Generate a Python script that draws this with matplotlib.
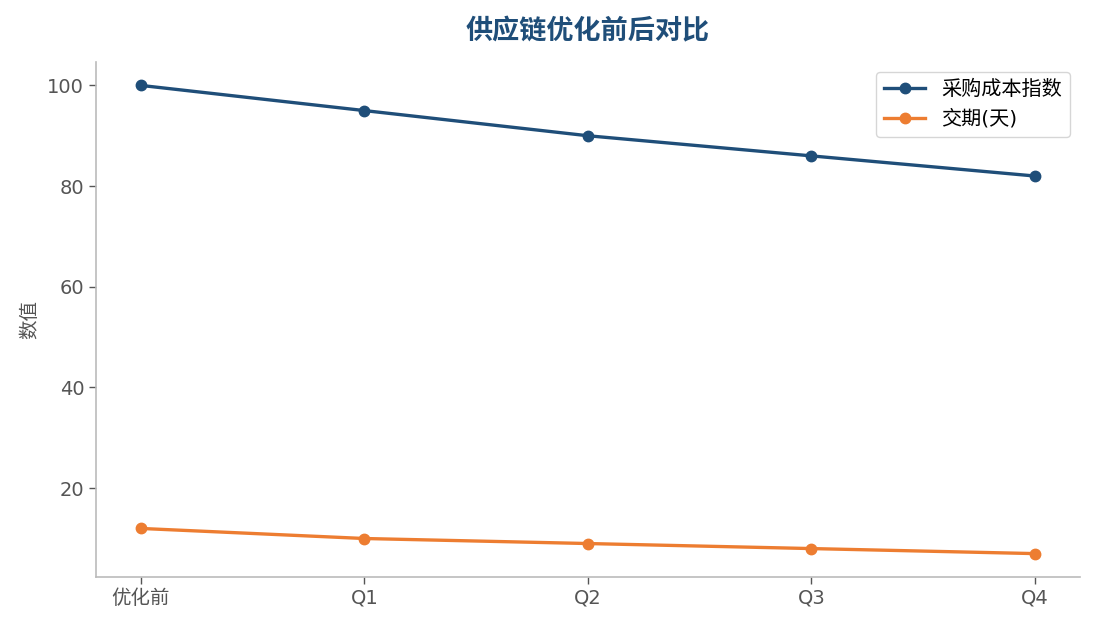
import matplotlib
matplotlib.use("Agg")
import matplotlib.pyplot as plt

categories = ["优化前", "Q1", "Q2", "Q3", "Q4"]
cost_index = [100, 95, 90, 86, 82]
lead_time = [12, 10, 9, 8, 7]

plt.rcParams['font.family'] = ['DejaVu Sans', 'Noto Sans CJK SC']

fig = plt.figure(figsize=(10.95, 6.3), dpi=100)
ax = fig.add_axes([0.0877, 0.0841, 0.8983, 0.8175])

ax.plot(categories, cost_index, color="#1f4e79", linewidth=2.4, marker="o",
        markersize=7.5, label="采购成本指数")
ax.plot(categories, lead_time, color="#ed7d31", linewidth=2.4, marker="o",
        markersize=7.5, label="交期(天)")

ax.set_title("供应链优化前后对比", fontsize=19.5, fontweight="bold",
             color="#1f4e79", pad=16, family=['Noto Sans CJK SC'])
ax.set_ylabel("数值", fontsize=14, color="#555555", labelpad=6)
ax.set_yticks([20, 40, 60, 80, 100])

for side in ["top", "right"]:
    ax.spines[side].set_visible(False)
for side in ["left", "bottom"]:
    ax.spines[side].set_color("#bbbbbb")
    ax.spines[side].set_linewidth(1.2)
ax.tick_params(colors="#555555", labelsize=14, length=5, width=1)

leg = ax.legend(loc="upper right", fontsize=14.5, frameon=True)
leg.get_frame().set_edgecolor("#cccccc")

fig.savefig("out.png", dpi=100)
